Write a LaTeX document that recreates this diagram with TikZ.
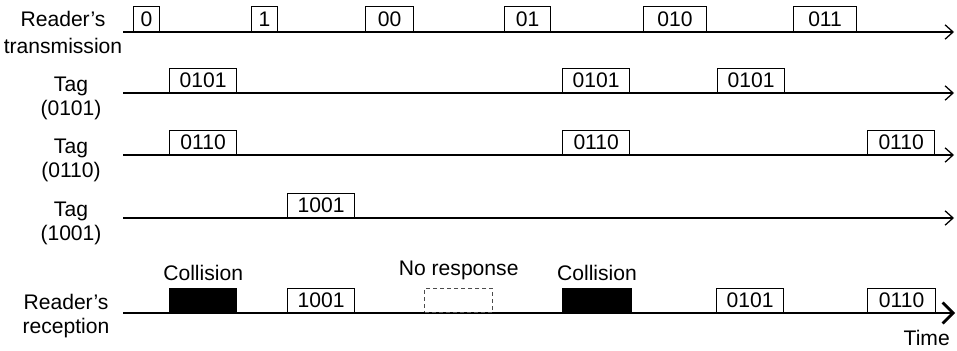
\documentclass[tikz,border=0pt]{standalone}
\usepackage{fontspec}
\setmainfont{Liberation Sans}
\usetikzlibrary{positioning, arrows.meta, calc}
\tikzset{
	% asse dei tempi (righe sottili)
	asse/.style={line width=0.9pt, -{Straight Barb[length=2mm, width=3.6mm]}},
	% asse della ricezione (riga spessa)
	assespesso/.style={line width=2pt, -{Straight Barb[length=2.6mm, width=5.2mm]}},
	% pacchetto trasmesso
	pacchetto/.style={draw, line width=0.8pt, fill=white, anchor=south west, minimum height=0.6cm,
	                  inner sep=0pt, font=\fontsize{15}{17}\selectfont},
	% collisione (blocco nero)
	collisione/.style={pacchetto, fill=black},
	% nessuna risposta (tratteggiato)
	vuoto/.style={pacchetto, draw=black!70, line width=1pt, dash pattern=on 3pt off 2pt},
	% etichette di testo
	etichetta/.style={align=center, font=\fontsize{15}{16.5}\selectfont, inner sep=0pt},
}

\begin{document}
\begin{tikzpicture}[x=0.025cm, y=0.025cm]
    \useasboundingbox (0,0) rectangle (957,-350);
    % assi
    \foreach \r/\y in {1/-32, 2/-93, 3/-155, 4/-218} {
      \coordinate (a\r) at (123,\y);
      \coordinate (b\r) at (954,\y);
      \draw[asse] (a\r) -- (b\r);
    }
    \coordinate (a5) at (123,-313);
    \coordinate (b5) at (955,-313);
    \draw[assespesso] (a5) -- (b5);
    % etichette delle righe
    \node[etichetta, anchor=base] (lbl1) at (63,-53)  {Reader's\\[2.5pt]transmission};
    \node[etichetta, anchor=base] (lbl2) at (71,-115) {Tag\\(0101)};
    \node[etichetta, anchor=base] (lbl3) at (71,-177) {Tag\\(0110)};
    \node[etichetta, anchor=base] (lbl4) at (71,-240) {Tag\\(1001)};
    \node[etichetta, anchor=base] (lbl5) at (66,-333) {Reader's\\reception};
    % trasmissione del lettore
    \foreach \x/\w/\t [count=\i] in {133/26/0, 251/26/1, 365/48/00, 504/46/01, 643/63/010, 793/63/011}
      \node[pacchetto, minimum height=0.625cm, minimum width=\w*0.025cm] (tx\i) at (\x,-32) {\t};
    % risposte dei tag
    \foreach \x [count=\i] in {169, 562, 717}
      \node[pacchetto, minimum width=1.68cm] (ta\i) at (\x,-93) {0101};
    \foreach \x [count=\i] in {169, 562, 867}
      \node[pacchetto, minimum width=1.68cm] (tb\i) at (\x,-155) {0110};
    \node[pacchetto, minimum width=1.68cm] (tc1) at (287,-218) {1001};
    % ricezione del lettore
    \node[collisione, minimum width=1.68cm] (rx1) at (169,-313) {};
    \node[pacchetto, minimum width=1.68cm]  (rx2) at (287,-313) {1001};
    \node[vuoto, minimum width=1.7cm]       (rx3) at (424,-313) {};
    \node[collisione, minimum width=1.72cm] (rx4) at (562,-313) {};
    \node[pacchetto, minimum width=1.68cm]  (rx5) at (716,-313) {0101};
    \node[pacchetto, minimum width=1.7cm]   (rx6) at (867,-313) {0110};
    \node[etichetta, anchor=base] (coll1) at ($(rx1.north)+(0,7)$)  {Collision};
    \node[etichetta, anchor=base] (nores) at ($(rx3.north)+(0,12)$) {No response};
    \node[etichetta, anchor=base] (coll2) at ($(rx4.north)+(0,7)$)  {Collision};
    \node[etichetta, anchor=base east] (tempo) at ($(b5)+(-5,-32)$) {Time};
  \end{tikzpicture}
\end{document}
